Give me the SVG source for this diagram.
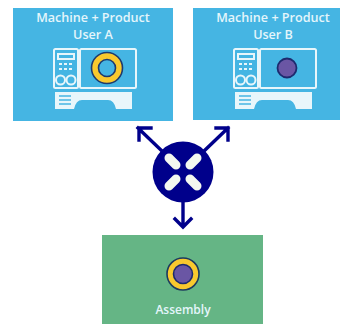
<svg xmlns="http://www.w3.org/2000/svg" width="344" height="324" viewBox="0 0 344 324">
<defs>
<style>
.t{font-family:"Open Sans","Liberation Sans",sans-serif;font-size:12.6px;font-weight:600;fill:#e4f5fb;text-anchor:middle}
.a{font-size:12px}
.m{fill:none;stroke:#e8f6fb;stroke-width:2}
.f{fill:#e8f6fb}
.c{fill:none;stroke:#00008b;stroke-width:3.4;stroke-linecap:square}
</style>
<g id="machine">
<rect class="m" x="1" y="1" width="24" height="39" rx="1.5"/>
<rect class="m" x="27" y="1" width="56" height="39" rx="1.5"/>
<rect class="m" x="5" y="6" width="16" height="5"/>
<g class="f"><rect x="6" y="15" width="3" height="2"/><rect x="11" y="15" width="3" height="2"/><rect x="16" y="15" width="3" height="2"/><rect x="6" y="20" width="3" height="2"/><rect x="11" y="20" width="3" height="2"/><rect x="16" y="20" width="3" height="2"/></g>
<circle class="m" cx="7.5" cy="32" r="4.5"/><circle class="m" cx="18" cy="32" r="4.5"/>
<path class="f" d="M2 44H79V61H63Q61 52 55 52H29Q23 52 21 61H2Z"/>
<path d="M6 48H18M6 52H18M6 56H18" stroke="#45b5e3" stroke-width="1.6" fill="none"/>
</g>
</defs>
<g id="user-a">
<rect x="13" y="8" width="160" height="113" fill="#45b5e3"/>
<text class="t" x="93" y="22">Machine + Product</text>
<text class="t" x="93" y="39">User A</text>
<use href="#machine" x="53" y="48"/>
<circle cx="107" cy="68" r="15.5" fill="#f9c92e" stroke="#1d3a6e" stroke-width="1.6"/>
<circle cx="107" cy="68" r="8.5" fill="#45b5e3" stroke="#1d3a6e" stroke-width="1.6"/>
</g>
<g id="user-b">
<rect x="193" y="8" width="147" height="112" fill="#45b5e3"/>
<text class="t" x="273" y="22">Machine + Product</text>
<text class="t" x="273" y="39">User B</text>
<use href="#machine" x="233" y="48"/>
<circle cx="287" cy="68" r="9.5" fill="#6a56a4" stroke="#1d2a6e" stroke-width="1.8"/>
</g>
<g id="assembly">
<rect x="102" y="235" width="161" height="89" fill="#65b585"/>
<circle cx="183" cy="274" r="16" fill="#f9c92e" stroke="#1d3a5e" stroke-width="1.6"/>
<circle cx="183" cy="274" r="9.5" fill="#6a56a4" stroke="#1d2a6e" stroke-width="1.6"/>
<text class="t a" x="183" y="314">Assembly</text>
</g>
<g id="connectors">
<path class="c" d="M162 151L138 128M139 140V128H151"/>
<path class="c" d="M204 151L228 128M216 128H228V140"/>
<path class="c" d="M183 200V226M175 219L183 227L191 219"/>
</g>
<g id="hub">
<circle cx="183" cy="172" r="30.5" fill="#00008b"/>
<g stroke="#f4f8f0" stroke-width="9" stroke-linecap="round">
<path d="M169 158L176 165M197 158L190 165M169 186L176 179M197 186L190 179"/>
</g>
</g>
</svg>
